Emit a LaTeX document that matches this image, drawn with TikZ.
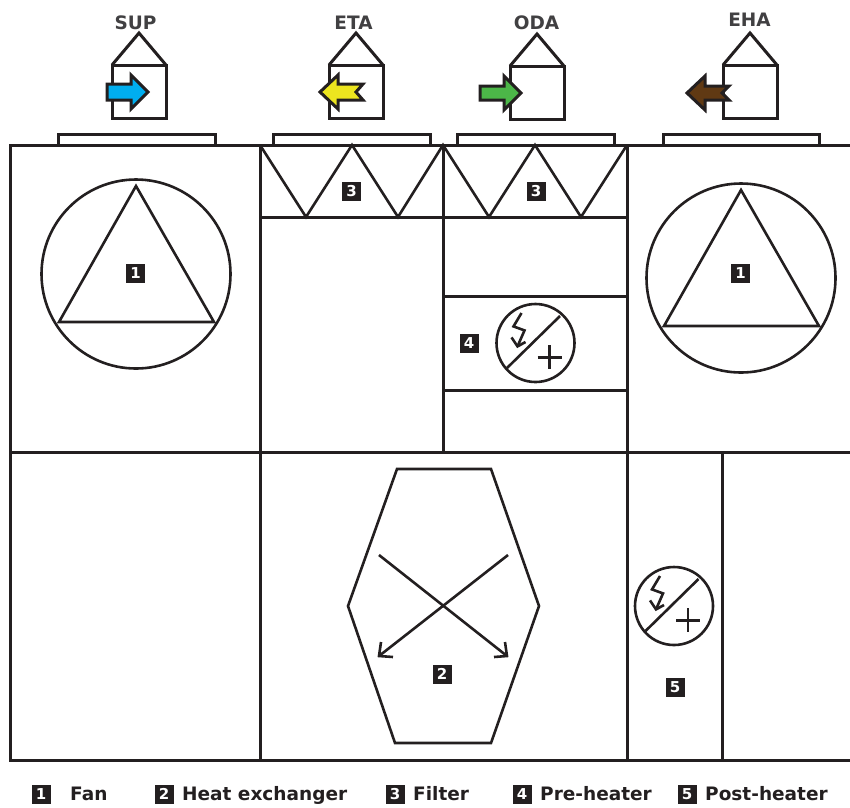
\documentclass[tikz,border=0pt]{standalone}
\usepackage{fontspec}
\setmainfont{DejaVu Sans}
\definecolor{ink}{HTML}{231F20}
\definecolor{lbl}{HTML}{414042}
\definecolor{arrowblue}{RGB}{0,174,239}
\definecolor{arrowyellow}{RGB}{236,229,31}
\definecolor{arrowgreen}{RGB}{76,183,72}
\definecolor{arrowbrown}{RGB}{96,57,19}
\tikzset{
  x=1pt,y=-1pt,
  ln/.style={draw=ink,line width=3pt,line join=miter},
  thin ln/.style={draw=ink,line width=2.6pt},
  badge/.style={fill=ink,text=white,font=\bfseries\fontsize{15}{15}\selectfont,minimum width=19pt,minimum height=19pt,inner sep=0pt},
  lab/.style={text=lbl,font=\bfseries\fontsize{18.5}{18.5}\selectfont,inner sep=0pt},
  leg/.style={text=ink,font=\bfseries\fontsize{18.5}{18.5}\selectfont,inner sep=0pt,anchor=base west},
  arrowbody/.style={draw=ink,line width=3pt,miter limit=10},
}
\newcommand{\house}[2]{%
  \draw[ln] (#1,#2) rectangle ++(54,53);
  \draw[ln] (#1,#2) -- ++(27,-32) -- ++(27,32);
}
\newcommand{\heater}[2]{%
  \begin{scope}[shift={(#1,#2)}]
  \draw[thin ln] (0,0) circle (39);
  \draw[thin ln] (-28.5,25) -- (24.5,-27);
  \draw[thin ln] (-14,-30) -- (-22,-16.6) -- (-11,-12.6) -- (-18,3.4);
  \draw[thin ln] (-24,-5.6) -- (-18,3.4) -- (-10,-1);
  \draw[thin ln] (2,14.4) -- (26,14.4) (14,2) -- (14,26);
  \end{scope}
}
\begin{document}
\begin{tikzpicture}
\useasboundingbox (0,0) rectangle (850,807);
% labels
\node[lab] (tsup) at (135.5,23) {SUP};
\node[lab] (teta) at (353.5,23) {ETA};
\node[lab] (toda) at (536.5,23) {ODA};
\node[lab] (teha) at (749.5,20) {EHA};
% houses
\house{112}{65}
\house{329}{65}
\house{510}{66}
\house{723}{65}
% arrows
\draw[arrowbody,fill=arrowblue]
  (107,84) -- (131,84) -- (131,75) -- (148,92) -- (131,109) -- (131,100) -- (107,100) -- cycle;
\draw[arrowbody,fill=arrowyellow]
  (363,84) -- (338,84) -- (338,75) -- (320,92) -- (338,109) -- (338,100) -- (363,100) -- (356,92) -- cycle;
\draw[arrowbody,fill=arrowgreen]
  (480,86) -- (504,86) -- (504,76) -- (521,93) -- (504,110) -- (504,100) -- (480,100) -- cycle;
\draw[arrowbody,fill=arrowbrown]
  (729,86) -- (705,86) -- (705,76) -- (687,93) -- (705,110) -- (705,100) -- (729,100) -- (722,93) -- cycle;
% collars
\draw[ln] (58,145) -- (58,134) -- (215,134) -- (215,145);
\draw[ln] (273,145) -- (273,134) -- (430,134) -- (430,145);
\draw[ln] (457,145) -- (457,134) -- (614,134) -- (614,145);
\draw[ln] (663,145) -- (663,134) -- (819,134) -- (819,145);
% casing
\draw[ln] (850,145) -- (10,145) -- (10,760) -- (850,760);
\draw[ln] (10,452) -- (850,452);
\draw[ln] (260,145) -- (260,760);
\draw[ln] (443,145) -- (443,452);
\draw[ln] (627,145) -- (627,760);
\draw[ln] (722,452) -- (722,760);
% filters
\draw[ln] (260,217) -- (627,217);
\draw[thin ln] (260,145) -- (306,217) -- (352,145) -- (398,217) -- (443,145) -- (489,217) -- (535,145) -- (581,217) -- (627,145);
% pre-heater box
\draw[ln] (443,296) -- (627,296);
\draw[ln] (443,390) -- (627,390);
% fans
\draw[thin ln] (136,274) circle (94.5);
\draw[thin ln] (136,186) -- (214,322) -- (59,322) -- cycle;
\draw[thin ln] (741,278) circle (94.5);
\draw[thin ln] (741,190) -- (819,326) -- (664,326) -- cycle;
% heaters
\heater{535.5}{343}
\heater{674}{606}
% heat exchanger
\draw[thin ln] (397,469) -- (491,469) -- (539,606) -- (491,743) -- (395,743) -- (348,606) -- cycle;
\draw[thin ln] (379,555) -- (507,656);
\draw[thin ln] (508,555) -- (379,656);
\draw[thin ln] (381,642) -- (379,656) -- (393,657);
\draw[thin ln] (505,642) -- (507,656) -- (494,657);
% badges
\node[badge] (b1a) at (135.5,273) {1};
\node[badge] (b1b) at (740.5,273) {1};
\node[badge] (b3a) at (351.5,191) {3};
\node[badge] (b3b) at (536,191) {3};
\node[badge] (b4) at (469,343) {4};
\node[badge] (b2) at (442,674) {2};
\node[badge] (b5) at (675,687) {5};
% legend
\node[badge] (l1) at (41,794) {1};
\node[leg] (lt1) at (70,800.5) {Fan};
\node[badge] (l2) at (164,794) {2};
\node[leg] (lt2) at (182,800.5) {Heat exchanger};
\node[badge] (l3) at (395,794) {3};
\node[leg] (lt3) at (413,800.5) {Filter};
\node[badge] (l4) at (522,794) {4};
\node[leg] (lt4) at (540,800.5) {Pre-heater};
\node[badge] (l5) at (687,794) {5};
\node[leg] (lt5) at (705,800.5) {Post-heater};
\end{tikzpicture}
\end{document}
